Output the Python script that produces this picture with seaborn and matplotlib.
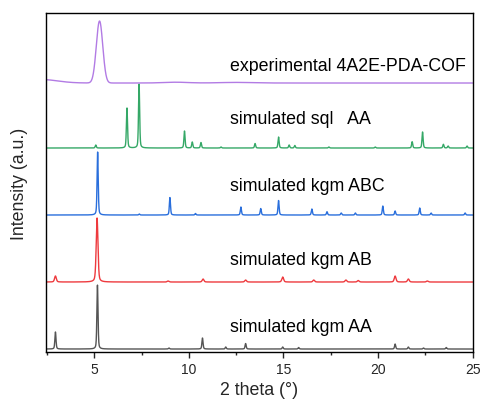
import numpy as np
import pandas as pd
import seaborn as sns
import matplotlib
matplotlib.use("Agg")
import matplotlib.pyplot as plt
from matplotlib.ticker import MultipleLocator

# peak lists: 2theta position, relative height, FWHM
aa_pos = [2.95, 5.17, 8.95, 10.72, 11.95, 13.0, 14.96, 15.8, 20.9, 21.6, 22.4, 23.6]
aa_hgt = [17, 64, 1.0, 11, 2.0, 5.5, 2.0, 1.5, 5.0, 2.0, 1.0, 1.5]
aa_fwhm = 0.07

ab_pos = [2.95, 5.15, 8.9, 10.75, 13.0, 14.96, 16.6, 18.3, 18.95, 20.9, 21.6, 22.6]
ab_hgt = [6, 64, 1.0, 3.0, 2.0, 5.0, 2.0, 2.0, 1.5, 6.0, 3.0, 1.0]
ab_fwhm = 0.11

abc_pos = [5.18, 7.38, 9.0, 10.35, 12.75, 13.8, 14.74, 16.5, 17.3, 18.05, 18.8,
           20.25, 20.9, 22.2, 22.8, 24.6]
abc_hgt = [63, 1.0, 17.5, 1.5, 8.0, 6.5, 14.5, 6.0, 3.3, 2.0, 2.0, 9.0, 4.0, 7.0, 2.0, 2.0]
abc_fwhm = 0.07

sql_pos = [5.08, 6.73, 7.37, 9.77, 10.18, 10.64, 11.7, 13.5, 14.74, 15.3, 15.6,
           17.4, 19.85, 21.8, 22.35, 23.45, 23.7, 24.7]
sql_hgt = [3.0, 40, 64, 17, 6.0, 5.5, 1.0, 4.5, 11, 3.0, 2.5, 1.0, 1.0, 6.3, 16, 3.7, 2.0, 2.0]
sql_fwhm = 0.07

exp_pos = [2.2, 5.28, 9.3, 12.5]
exp_hgt = [3.5, 62, 0.8, 0.6]
exp_fwhm = [2.0, 0.40, 1.5, 2.0]

labels = ["simulated kgm AA", "simulated kgm AB", "simulated kgm ABC",
          "simulated sql   AA", "experimental 4A2E-PDA-COF"]
colors = ["#555555", "#ee3a3e", "#2a6fdc", "#35a867", "#b27be4"]
label_y = [18, 85, 159, 226, 279]
offset_step = 67
exp_offset = 266


def profile(x, pos, hgt, fwhm, gauss=False):
    y = np.zeros_like(x)
    fw = np.broadcast_to(np.asarray(fwhm, dtype=float), (len(pos),))
    for p, h, w in zip(pos, hgt, fw):
        g = np.exp(-4 * np.log(2) * ((x - p) / w) ** 2)
        if gauss:
            y += h * g
        else:
            # pseudo-voigt, gaussian core with lorentz tails
            lo = 1 / (1 + 4 * ((x - p) / w) ** 2)
            y += h * (0.6 * g + 0.4 * lo)
    return y


x = np.linspace(2.45, 25, 6000)
curves = [
    profile(x, aa_pos, aa_hgt, aa_fwhm),
    profile(x, ab_pos, ab_hgt, ab_fwhm),
    profile(x, abc_pos, abc_hgt, abc_fwhm),
    profile(x, sql_pos, sql_hgt, sql_fwhm),
    profile(x, exp_pos, exp_hgt, exp_fwhm, gauss=True),
]
offsets = [0, offset_step, 2 * offset_step, 3 * offset_step, exp_offset]

frames = []
for lab, c, off in zip(labels, curves, offsets):
    frames.append(pd.DataFrame({"two_theta": x, "intensity": c + off, "pattern": lab}))
df = pd.concat(frames, ignore_index=True)

sns.set_style("ticks")
plt.rcParams["font.family"] = ["Liberation Sans", "DejaVu Sans"]

fig = plt.figure(figsize=(4.8, 4.06), dpi=100)
ax = fig.add_axes([0.0958, 0.1305, 0.889, 0.835])

sns.lineplot(data=df, x="two_theta", y="intensity", hue="pattern",
             palette=dict(zip(labels, colors)), linewidth=1.0, legend=False, ax=ax)

for lab, yy in zip(labels, label_y):
    ax.text(12.2, yy, lab, fontsize=12.8, va="baseline", ha="left", color="black")

ax.set_xlim(2.45, 25)
ax.set_ylim(-3, 336)
ax.set_yticks([])
ax.xaxis.set_major_locator(MultipleLocator(5))
ax.xaxis.set_minor_locator(MultipleLocator(2.5))
ax.tick_params(axis="x", which="major", direction="out", length=4, width=1, labelsize=10)
ax.tick_params(axis="x", which="minor", direction="out", length=2.5, width=1)
for s in ax.spines.values():
    s.set_visible(True)
    s.set_linewidth(1.0)
    s.set_color("black")
ax.set_xlabel("2 theta (°)", fontsize=12.8, labelpad=3)
ax.set_ylabel("Intensity (a.u.)", fontsize=12.8, labelpad=13)

fig.savefig("out.png", dpi=100)
